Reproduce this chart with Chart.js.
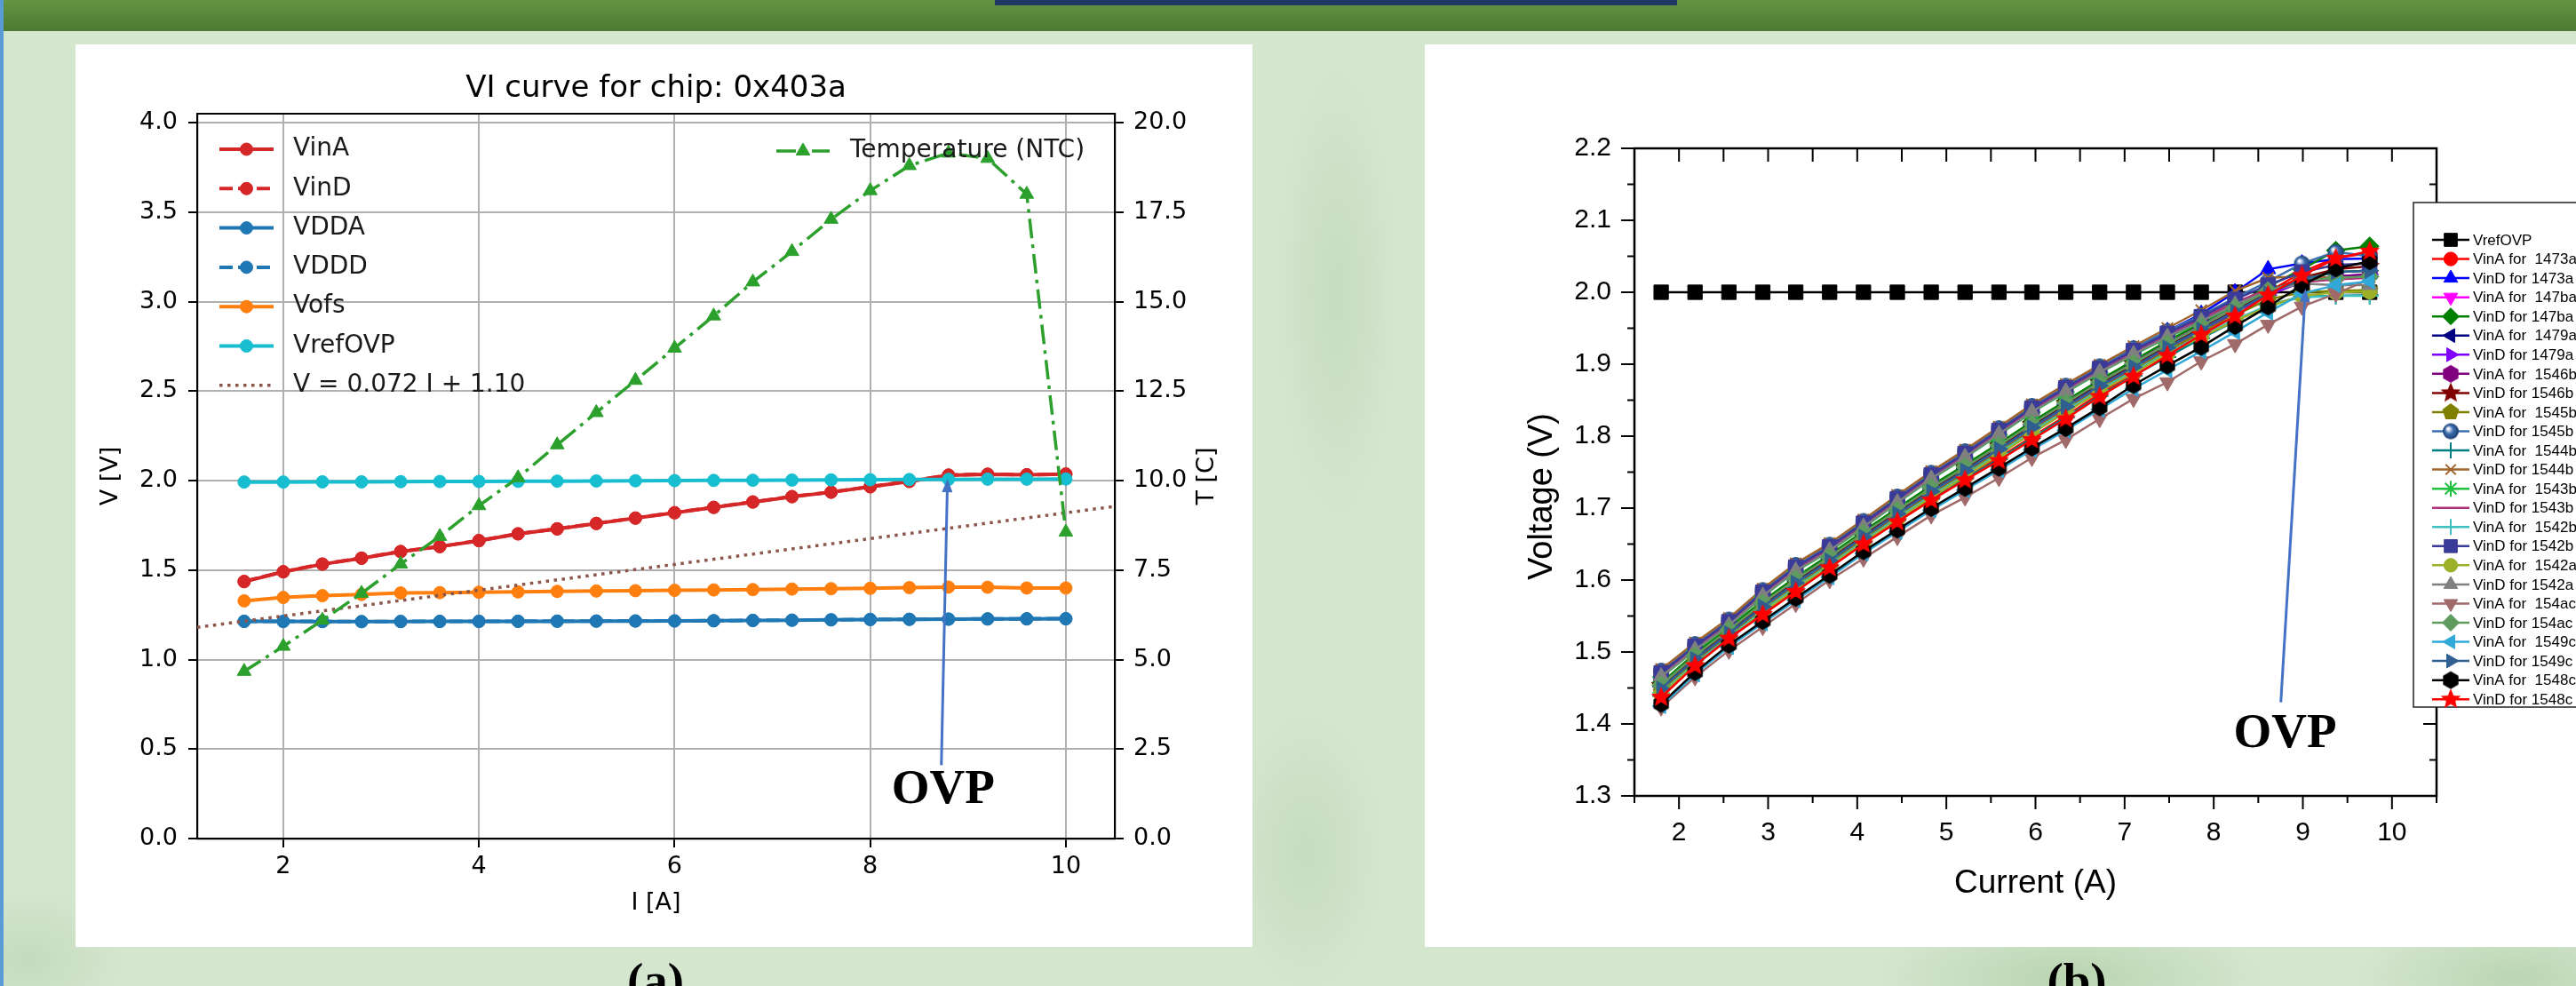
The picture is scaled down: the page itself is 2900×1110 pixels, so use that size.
<!DOCTYPE html>
<html>
<head>
<meta charset="utf-8">
<script src="https://cdn.jsdelivr.net/npm/chart.js@4.4.1/dist/chart.umd.min.js"></script>
<style>
  html, body { margin: 0; padding: 0; }
  body {
    width: 2900px; height: 1110px; overflow: hidden; position: relative;
    background:
      radial-gradient(70px 260px at 1505px 330px, rgba(120,165,105,0.16), rgba(120,165,105,0)),
      radial-gradient(90px 160px at 1470px 960px, rgba(120,165,105,0.16), rgba(120,165,105,0)),
      radial-gradient(220px 70px at 2330px 1100px, rgba(120,170,105,0.30), rgba(120,170,105,0)),
      radial-gradient(180px 70px at 2830px 1100px, rgba(120,170,105,0.28), rgba(120,170,105,0)),
      radial-gradient(110px 80px at 30px 1080px, rgba(120,170,105,0.18), rgba(120,170,105,0)),
      #d5e6cf;
  }
  #band { position: absolute; left: 0; top: 0; width: 2900px; height: 35px; background: linear-gradient(#629542, #4d7931); }
  #navy { position: absolute; left: 1120px; top: 0; width: 768px; height: 6px; background: #1f3864; }
  #stripe { position: absolute; left: 0; top: 0; width: 4px; height: 1110px; background: #5b9bd5; }
  .panel { position: absolute; top: 50px; height: 1016px; background: #fff; }
  #panelA { left: 85px; width: 1325px; }
  #panelB { left: 1604px; width: 1296px; }
  .panel canvas { position: absolute; left: 0; top: 0; }
  .cap { position: absolute; top: 1076px; font: bold 55px/55px "Liberation Serif", serif; color: #000; transform: translateX(-50%); }
</style>
</head>
<body>
<div id="band"></div>
<div id="navy"></div>
<div id="stripe"></div>
<div class="panel" id="panelA"><canvas id="chartA" width="1325" height="1016"></canvas></div>
<div class="panel" id="panelB"><canvas id="chartB" width="1296" height="1016"></canvas></div>
<div class="cap" style="left:738px">(a)</div>
<div class="cap" style="left:2338px">(b)</div>
<script>
// ---------- (a) VI curve for chip 0x403a ----------
const currentA = [1.6, 2.0, 2.4, 2.8, 3.2, 3.6, 4.0, 4.4, 4.8, 5.2, 5.6, 6.0, 6.4, 6.8, 7.2, 7.6, 8.0, 8.4, 8.8, 9.2, 9.6, 10.0];
const vinA = [1.435, 1.490, 1.533, 1.566, 1.603, 1.631, 1.664, 1.702, 1.730, 1.760, 1.790, 1.820, 1.850, 1.880, 1.910, 1.935, 1.965, 1.995, 2.030, 2.035, 2.032, 2.036];
const vinD = [1.437, 1.491, 1.534, 1.567, 1.604, 1.632, 1.665, 1.703, 1.731, 1.761, 1.791, 1.821, 1.851, 1.881, 1.911, 1.936, 1.966, 1.996, 2.031, 2.036, 2.033, 2.037];
const vdda = [1.213, 1.213, 1.212, 1.212, 1.212, 1.213, 1.213, 1.214, 1.214, 1.215, 1.215, 1.216, 1.217, 1.218, 1.220, 1.222, 1.224, 1.225, 1.226, 1.227, 1.227, 1.228];
const vddd = [1.214, 1.213, 1.213, 1.212, 1.213, 1.213, 1.214, 1.214, 1.215, 1.215, 1.216, 1.216, 1.217, 1.219, 1.220, 1.222, 1.224, 1.225, 1.226, 1.227, 1.228, 1.228];
const vofs = [1.328, 1.347, 1.357, 1.364, 1.372, 1.374, 1.376, 1.378, 1.381, 1.383, 1.385, 1.387, 1.389, 1.391, 1.394, 1.396, 1.398, 1.402, 1.405, 1.404, 1.400, 1.400];
const vrefA = [1.992, 1.992, 1.993, 1.993, 1.994, 1.995, 1.995, 1.996, 1.997, 1.998, 1.999, 2.000, 2.001, 2.002, 2.003, 2.004, 2.005, 2.006, 2.007, 2.008, 2.008, 2.009];
const fitI = [1.12, 10.5];
const fitV = [1.18, 1.856];
const tempNTC = [4.67, 5.37, 6.10, 6.85, 7.67, 8.44, 9.30, 10.08, 11.0, 11.9, 12.8, 13.7, 14.6, 15.55, 16.4, 17.3, 18.1, 18.8, 19.15, 19.0, 18.0, 8.56];
const xTicksA = [2, 4, 6, 8, 10];
const vTicksA = [0, 0.5, 1.0, 1.5, 2.0, 2.5, 3.0, 3.5, 4.0];
const tTicksA = [0, 2.5, 5.0, 7.5, 10.0, 12.5, 15.0, 17.5, 20.0];
// OVP arrow (from, to) and label, in data units
const ovpA = [[8.727, 0.41], [8.79, 2.01], [8.745, 0.268]];

// ---------- (b) VinA / VinD for all chips ----------
const currentB = [1.80, 2.18, 2.56, 2.94, 3.31, 3.69, 4.07, 4.45, 4.83, 5.21, 5.59, 5.96, 6.34, 6.72, 7.10, 7.48, 7.86, 8.24, 8.61, 8.99, 9.37, 9.75];
const vrefB = [2.0, 2.0, 2.0, 2.0, 2.0, 2.0, 2.0, 2.0, 2.0, 2.0, 2.0, 2.0, 2.0, 2.0, 2.0, 2.0, 2.0, 2.0, 2.0, 2.0, 2.0, 2.0];
const vinA1473a = [1.441, 1.485, 1.523, 1.556, 1.588, 1.621, 1.654, 1.685, 1.715, 1.743, 1.770, 1.799, 1.828, 1.859, 1.887, 1.916, 1.945, 1.971, 2.000, 2.028, 2.048, 2.054];
const vinD1473a = [1.472, 1.509, 1.543, 1.584, 1.619, 1.647, 1.680, 1.714, 1.747, 1.777, 1.809, 1.840, 1.868, 1.895, 1.921, 1.946, 1.970, 2.000, 2.032, 2.040, 2.046, 2.047];
const vinA147ba = [1.455, 1.496, 1.532, 1.569, 1.602, 1.633, 1.666, 1.698, 1.729, 1.758, 1.788, 1.818, 1.847, 1.876, 1.902, 1.929, 1.954, 1.978, 2.000, 2.015, 2.020, 2.022];
const vinD147ba = [1.457, 1.498, 1.534, 1.571, 1.604, 1.635, 1.668, 1.700, 1.731, 1.760, 1.790, 1.820, 1.849, 1.878, 1.905, 1.932, 1.957, 1.982, 2.008, 2.032, 2.058, 2.064];
const vinA1479a = [1.452, 1.493, 1.529, 1.566, 1.599, 1.630, 1.663, 1.695, 1.726, 1.755, 1.785, 1.815, 1.844, 1.873, 1.899, 1.926, 1.951, 1.976, 2.000, 2.018, 2.028, 2.030];
const vinD1479a = [1.448, 1.489, 1.525, 1.562, 1.595, 1.626, 1.659, 1.691, 1.722, 1.751, 1.781, 1.811, 1.840, 1.869, 1.895, 1.922, 1.947, 1.972, 1.996, 2.014, 2.022, 2.025];
const vinA1546b = [1.467, 1.504, 1.538, 1.579, 1.614, 1.642, 1.675, 1.709, 1.742, 1.772, 1.804, 1.835, 1.863, 1.890, 1.915, 1.939, 1.961, 1.984, 2.003, 2.015, 2.022, 2.025];
const vinD1546b = [1.453, 1.494, 1.530, 1.567, 1.600, 1.631, 1.664, 1.696, 1.727, 1.756, 1.786, 1.816, 1.845, 1.874, 1.900, 1.927, 1.952, 1.977, 2.001, 2.020, 2.032, 2.036];
const vinA1545b = [1.445, 1.486, 1.522, 1.559, 1.592, 1.623, 1.656, 1.688, 1.719, 1.748, 1.778, 1.808, 1.837, 1.866, 1.892, 1.919, 1.944, 1.968, 1.990, 2.000, 2.002, 2.003];
const vinD1545b = [1.474, 1.511, 1.545, 1.586, 1.621, 1.649, 1.682, 1.716, 1.749, 1.779, 1.811, 1.842, 1.870, 1.897, 1.922, 1.946, 1.968, 1.992, 2.015, 2.040, 2.056, 2.050];
const vinA1544b = [1.439, 1.483, 1.521, 1.554, 1.586, 1.619, 1.652, 1.683, 1.713, 1.741, 1.768, 1.797, 1.826, 1.856, 1.884, 1.910, 1.936, 1.960, 1.982, 1.994, 1.995, 1.996];
const vinD1544b = [1.476, 1.513, 1.547, 1.588, 1.623, 1.651, 1.684, 1.718, 1.751, 1.781, 1.813, 1.844, 1.872, 1.899, 1.925, 1.950, 1.975, 2.002, 2.020, 2.022, 2.020, 2.021];
const vinA1543b = [1.465, 1.502, 1.536, 1.577, 1.612, 1.640, 1.673, 1.707, 1.740, 1.770, 1.802, 1.833, 1.861, 1.888, 1.913, 1.937, 1.959, 1.982, 2.002, 2.018, 2.028, 2.030];
const vinD1543b = [1.470, 1.507, 1.541, 1.582, 1.617, 1.645, 1.678, 1.712, 1.745, 1.775, 1.807, 1.838, 1.866, 1.893, 1.918, 1.942, 1.964, 1.986, 2.004, 2.014, 2.018, 2.020];
const vinA1542b = [1.443, 1.484, 1.520, 1.557, 1.590, 1.621, 1.654, 1.686, 1.717, 1.746, 1.776, 1.806, 1.835, 1.864, 1.890, 1.916, 1.940, 1.962, 1.982, 1.993, 1.995, 1.995];
const vinD1542b = [1.471, 1.508, 1.542, 1.583, 1.618, 1.646, 1.679, 1.713, 1.746, 1.776, 1.808, 1.839, 1.867, 1.894, 1.919, 1.943, 1.966, 1.990, 2.010, 2.028, 2.038, 2.040];
const vinA1542a = [1.441, 1.482, 1.518, 1.555, 1.588, 1.619, 1.652, 1.684, 1.715, 1.744, 1.774, 1.804, 1.833, 1.862, 1.888, 1.914, 1.938, 1.960, 1.980, 1.995, 2.000, 2.001];
const vinD1542a = [1.466, 1.503, 1.537, 1.578, 1.613, 1.641, 1.674, 1.708, 1.741, 1.771, 1.803, 1.834, 1.862, 1.889, 1.914, 1.938, 1.960, 1.983, 2.002, 2.012, 2.010, 2.010];
const vinA154ac = [1.423, 1.465, 1.502, 1.535, 1.567, 1.600, 1.630, 1.660, 1.690, 1.715, 1.742, 1.770, 1.795, 1.824, 1.852, 1.875, 1.904, 1.928, 1.955, 1.980, 1.998, 2.018];
const vinD154ac = [1.454, 1.495, 1.531, 1.568, 1.601, 1.632, 1.665, 1.697, 1.728, 1.757, 1.787, 1.817, 1.846, 1.875, 1.901, 1.928, 1.953, 1.978, 2.002, 2.016, 2.020, 2.022];
const vinA1549c = [1.425, 1.469, 1.507, 1.540, 1.572, 1.604, 1.637, 1.667, 1.697, 1.725, 1.753, 1.781, 1.808, 1.837, 1.866, 1.892, 1.918, 1.945, 1.972, 1.998, 2.010, 2.015];
const vinD1549c = [1.449, 1.490, 1.526, 1.563, 1.596, 1.627, 1.660, 1.692, 1.723, 1.752, 1.782, 1.812, 1.841, 1.870, 1.896, 1.923, 1.948, 1.973, 1.998, 2.018, 2.028, 2.030];
const vinA1548c = [1.428, 1.472, 1.510, 1.543, 1.575, 1.607, 1.640, 1.670, 1.700, 1.728, 1.756, 1.784, 1.811, 1.840, 1.871, 1.898, 1.924, 1.953, 1.980, 2.010, 2.033, 2.043];
const vinD1548c = [1.437, 1.481, 1.519, 1.552, 1.584, 1.617, 1.650, 1.681, 1.711, 1.739, 1.766, 1.795, 1.824, 1.855, 1.883, 1.912, 1.941, 1.967, 1.996, 2.023, 2.047, 2.057];
const xTicksB = [2, 3, 4, 5, 6, 7, 8, 9, 10];
const xMinorB = [1.5, 2.5, 3.5, 4.5, 5.5, 6.5, 7.5, 8.5, 9.5, 10.5];
const yTicksB = [1.3, 1.4, 1.5, 1.6, 1.7, 1.8, 1.9, 2.0, 2.1, 2.2];
const yMinorB = [1.35, 1.45, 1.55, 1.65, 1.75, 1.85, 1.95, 2.05, 2.15];
const ovpB = [[8.753, 1.43], [9.03, 2.005], [8.80, 1.385]];

// custom marker shapes (Origin style)
function polyMarker(n, r, color, inner) {
  const c = document.createElement('canvas');
  const s = Math.ceil(2 * r + 2);
  c.width = c.height = s;
  const g = c.getContext('2d');
  g.fillStyle = color;
  g.beginPath();
  const pts = inner ? n * 2 : n;
  for (let k = 0; k < pts; k++) {
    const ang = k * Math.PI * 2 / pts;
    const rr = inner && k % 2 ? r * inner : r;
    const px = s / 2 + rr * Math.sin(ang), py = s / 2 - rr * Math.cos(ang);
    if (k) g.lineTo(px, py); else g.moveTo(px, py);
  }
  g.closePath();
  g.fill();
  return c;
}
function sphereMarker(r, color) {
  const c = document.createElement('canvas');
  const s = Math.ceil(2 * r + 2);
  c.width = c.height = s;
  const g = c.getContext('2d');
  const grad = g.createRadialGradient(s / 2 - r / 3, s / 2 - r / 3, 1, s / 2, s / 2, r);
  grad.addColorStop(0, '#ffffff');
  grad.addColorStop(0.45, color);
  grad.addColorStop(1, '#1d3f70');
  g.fillStyle = grad;
  g.beginPath(); g.arc(s / 2, s / 2, r, 0, Math.PI * 2); g.fill();
  return c;
}

// label, values, colour, marker, rotation
const seriesB = [
  ['VrefOVP', vrefB, '#000000', 'rect', 0],
  ['VinA for  1473a', vinA1473a, '#ff0000', 'circle', 0],
  ['VinD for 1473a', vinD1473a, '#0000ff', 'triangle', 0],
  ['VinA for  147ba', vinA147ba, '#ff00ff', 'triangle', 180],
  ['VinD for 147ba', vinD147ba, '#008000', 'rectRot', 0],
  ['VinA for  1479a', vinA1479a, '#000080', 'triangle', 270],
  ['VinD for 1479a', vinD1479a, '#8000ff', 'triangle', 90],
  ['VinA for  1546b', vinA1546b, '#800080', polyMarker(6, 10, '#800080'), 0],
  ['VinD for 1546b', vinD1546b, '#800000', polyMarker(5, 12, '#800000', 0.45), 0],
  ['VinA for  1545b', vinA1545b, '#808000', polyMarker(5, 10, '#808000'), 0],
  ['VinD for 1545b', vinD1545b, '#3d6eb0', sphereMarker(9, '#3d6eb0'), 0],
  ['VinA for  1544b', vinA1544b, '#008080', 'cross', 0],
  ['VinD for 1544b', vinD1544b, '#a0642c', 'crossRot', 0],
  ['VinA for  1543b', vinA1543b, '#20c040', 'star', 0],
  ['VinD for 1543b', vinD1543b, '#b0307a', false, 0],
  ['VinA for  1542b', vinA1542b, '#40c0c0', 'cross', 0],
  ['VinD for 1542b', vinD1542b, '#3a3a98', 'rect', 0],
  ['VinA for  1542a', vinA1542a, '#9cb02a', 'circle', 0],
  ['VinD for 1542a', vinD1542a, '#808080', 'triangle', 0],
  ['VinA for  154ac', vinA154ac, '#a06a6a', 'triangle', 180],
  ['VinD for 154ac', vinD154ac, '#5f9a5f', 'rectRot', 0],
  ['VinA for  1549c', vinA1549c, '#30a8d8', 'triangle', 270],
  ['VinD for 1549c', vinD1549c, '#2f5f90', 'triangle', 90],
  ['VinA for  1548c', vinA1548c, '#000000', polyMarker(6, 10, '#000000'), 0],
  ['VinD for 1548c', vinD1548c, '#ff0000', polyMarker(5, 12, '#ff0000', 0.45), 0]
];

function xy(xs, ys) { return xs.map((x, i) => ({ x: x, y: ys[i] })); }

function radiusFor(style) {
  if (style === false) return 0;
  if (typeof style === 'object') return 10;
  return { circle: 8.5, rect: 11.5, triangle: 10, rectRot: 10.5, cross: 10, crossRot: 9, star: 10 }[style];
}

function drawPt(ctx, style, rot, r, x, y, bw) {
  if (style === false || r <= 0) return;
  if (Chart.helpers && Chart.helpers.drawPoint) {
    Chart.helpers.drawPoint(ctx, { pointStyle: style, rotation: rot || 0, radius: r, borderWidth: bw }, x, y);
  } else {
    ctx.beginPath(); ctx.arc(x, y, r, 0, Math.PI * 2); ctx.fill();
  }
}

function arrow(ctx, x0, y0, x1, y1) {
  ctx.save();
  ctx.strokeStyle = ctx.fillStyle = '#4472c4';
  ctx.lineWidth = 3;
  const ang = Math.atan2(y1 - y0, x1 - x0), hl = 15, hw = 6;
  const bx = x1 - hl * Math.cos(ang), by = y1 - hl * Math.sin(ang);
  ctx.beginPath(); ctx.moveTo(x0, y0); ctx.lineTo(bx, by); ctx.stroke();
  ctx.beginPath();
  ctx.moveTo(x1, y1);
  ctx.lineTo(bx + hw * Math.sin(ang), by - hw * Math.cos(ang));
  ctx.lineTo(bx - hw * Math.sin(ang), by + hw * Math.cos(ang));
  ctx.closePath(); ctx.fill();
  ctx.restore();
}

function vText(ctx, text, x, y) {
  ctx.save();
  ctx.translate(x, y);
  ctx.rotate(-Math.PI / 2);
  ctx.fillText(text, 0, 0);
  ctx.restore();
}

// ---------- chart (a) ----------
const MPL = '"DejaVu Sans"';
const lineA = (label, vals, color, dash) => ({
  label: label, data: xy(currentA, vals), yAxisID: 'y',
  borderColor: color, backgroundColor: color, borderWidth: 4, borderDash: dash || [],
  pointRadius: 7, pointBorderWidth: 1, pointStyle: 'circle'
});
const dsA = [
  lineA('VinA', vinA, '#d62728'),
  lineA('VinD', vinD, '#d62728', [15, 6]),
  lineA('VDDA', vdda, '#1f77b4'),
  lineA('VDDD', vddd, '#1f77b4', [15, 6]),
  lineA('Vofs', vofs, '#ff7f0e'),
  lineA('VrefOVP', vrefA, '#17becf'),
  { label: 'V = 0.072 I + 1.10', data: xy(fitI, fitV), yAxisID: 'y', borderColor: '#8c564b', backgroundColor: '#8c564b',
    borderWidth: 3.5, borderDash: [3.5, 5.5], pointRadius: 0 },
  { label: 'Temperature (NTC)', data: xy(currentA, tempNTC), yAxisID: 't', borderColor: '#2ca02c', backgroundColor: '#2ca02c',
    borderWidth: 3.5, borderDash: [22, 7, 4, 7], pointStyle: 'triangle', pointRadius: 9, pointBorderWidth: 1 }
];
dsA.forEach((d, i) => { d.order = dsA.length - i; });

const decoA = {
  id: 'decoA',
  afterDraw(chart) {
    const ctx = chart.ctx, a = chart.chartArea, sx = chart.scales.x, sy = chart.scales.y;
    ctx.save();
    ctx.strokeStyle = '#000'; ctx.lineWidth = 2.2;
    ctx.beginPath(); ctx.moveTo(a.left, a.top); ctx.lineTo(a.right, a.top); ctx.stroke();

    ctx.fillStyle = '#000';
    ctx.textAlign = 'center';
    ctx.font = '34px ' + MPL; ctx.textBaseline = 'alphabetic';
    ctx.fillText('VI curve for chip: 0x403a', (a.left + a.right) / 2, 59);
    ctx.font = '27px ' + MPL; ctx.textBaseline = 'middle';
    ctx.fillText('I [A]', (a.left + a.right) / 2, 967);
    vText(ctx, 'V [V]', 40, (a.top + a.bottom) / 2);
    vText(ctx, 'T [C]', 1274, (a.top + a.bottom) / 2);

    // legend (no frame, like the original)
    ctx.font = '28px ' + MPL; ctx.textAlign = 'left';
    const entry = (d, hx0, hx1, y, tx) => {
      ctx.save();
      ctx.strokeStyle = d.borderColor; ctx.fillStyle = d.backgroundColor;
      ctx.lineWidth = d.borderWidth; ctx.setLineDash(d.borderDash || []);
      ctx.beginPath(); ctx.moveTo(hx0, y); ctx.lineTo(hx1, y); ctx.stroke();
      ctx.setLineDash([]); ctx.lineWidth = 1;
      drawPt(ctx, d.pointStyle || 'circle', 0, d.pointRadius || 0, (hx0 + hx1) / 2, y, 1);
      ctx.restore();
      ctx.fillStyle = '#1a1a1a';
      ctx.fillText(d.label, tx, y);
    };
    for (let i = 0; i < 7; i++) entry(dsA[i], 162, 223, 118 + i * 44.3, 245);
    entry(dsA[7], 789, 849, 120, 872);

    // OVP annotation
    arrow(ctx, sx.getPixelForValue(ovpA[0][0]), sy.getPixelForValue(ovpA[0][1]),
               sx.getPixelForValue(ovpA[1][0]), sy.getPixelForValue(ovpA[1][1]));
    ctx.fillStyle = '#000'; ctx.textAlign = 'center'; ctx.textBaseline = 'middle';
    ctx.font = 'bold 55px "Liberation Serif"';
    ctx.fillText('OVP', sx.getPixelForValue(ovpA[2][0]), sy.getPixelForValue(ovpA[2][1]));
    ctx.restore();
  }
};

const gridA = { color: '#b0b0b0', lineWidth: 2, drawTicks: true, tickLength: 10, tickColor: '#000', tickWidth: 2 };
new Chart(document.getElementById('chartA'), {
  type: 'line',
  data: { datasets: dsA },
  options: {
    responsive: false, animation: false, devicePixelRatio: 1,
    layout: { padding: { left: 37, right: 55, top: 78, bottom: 22 } },
    plugins: { legend: { display: false }, tooltip: { enabled: false } },
    scales: {
      x: {
        type: 'linear', min: 1.12, max: 10.5,
        grid: gridA, border: { display: true, color: '#000', width: 2.2 },
        afterBuildTicks: s => { s.ticks = xTicksA.map(v => ({ value: v })); },
        afterFit: s => { s.height = 100; },
        ticks: { font: { family: 'DejaVu Sans', size: 27 }, color: '#000', padding: 6, maxRotation: 0, callback: v => String(v) }
      },
      y: {
        type: 'linear', position: 'left', min: 0, max: 4.05,
        grid: gridA, border: { display: true, color: '#000', width: 2.2 },
        afterBuildTicks: s => { s.ticks = vTicksA.map(v => ({ value: v })); },
        afterFit: s => { s.width = 100; },
        ticks: { font: { family: 'DejaVu Sans', size: 27 }, color: '#000', padding: 12, callback: v => v.toFixed(1) }
      },
      t: {
        type: 'linear', position: 'right', min: 0, max: 20.25,
        grid: Object.assign({}, gridA, { drawOnChartArea: false }), border: { display: true, color: '#000', width: 2.2 },
        afterBuildTicks: s => { s.ticks = tTicksA.map(v => ({ value: v })); },
        afterFit: s => { s.width = 100; },
        ticks: { font: { family: 'DejaVu Sans', size: 27 }, color: '#000', padding: 11, callback: v => v.toFixed(1) }
      }
    }
  },
  plugins: [decoA]
});

// ---------- chart (b) ----------
const dsB = seriesB.map((s, i) => ({
  label: s[0], data: xy(currentB, s[1]),
  borderColor: s[2], backgroundColor: s[2], borderWidth: 2.5,
  pointStyle: s[3] === false ? 'circle' : s[3], pointRotation: s[4],
  pointRadius: radiusFor(s[3]), pointBorderWidth: (s[3] === 'cross' || s[3] === 'crossRot' || s[3] === 'star') ? 2 : 1,
  order: seriesB.length - i
}));

const decoB = {
  id: 'decoB',
  afterDraw(chart) {
    const ctx = chart.ctx, a = chart.chartArea, sx = chart.scales.x, sy = chart.scales.y;
    ctx.save();
    // frame and Origin-style ticks
    ctx.strokeStyle = '#000'; ctx.lineWidth = 2.5;
    ctx.strokeRect(a.left, a.top, a.right - a.left, a.bottom - a.top);
    ctx.lineWidth = 2;
    ctx.beginPath();
    xTicksB.forEach(v => {
      const px = sx.getPixelForValue(v);
      ctx.moveTo(px, a.bottom); ctx.lineTo(px, a.bottom + 15);
      ctx.moveTo(px, a.top); ctx.lineTo(px, a.top + 15);
    });
    xMinorB.forEach(v => {
      const px = sx.getPixelForValue(v);
      ctx.moveTo(px, a.bottom); ctx.lineTo(px, a.bottom + 8);
      ctx.moveTo(px, a.top); ctx.lineTo(px, a.top + 15);
    });
    yTicksB.forEach(v => {
      const py = sy.getPixelForValue(v);
      ctx.moveTo(a.left, py); ctx.lineTo(a.left - 15, py);
      ctx.moveTo(a.right, py); ctx.lineTo(a.right - 15, py);
    });
    yMinorB.forEach(v => {
      const py = sy.getPixelForValue(v);
      ctx.moveTo(a.left, py); ctx.lineTo(a.left - 8, py);
      ctx.moveTo(a.right, py); ctx.lineTo(a.right - 8, py);
    });
    ctx.stroke();

    // axis titles
    ctx.fillStyle = '#000'; ctx.textAlign = 'center'; ctx.textBaseline = 'middle';
    ctx.font = '37px "Liberation Sans"';
    ctx.fillText('Current (A)', (a.left + a.right) / 2, 945);
    ctx.font = '38px "Liberation Sans"';
    vText(ctx, 'Voltage (V)', 133, 509);

    // OVP annotation
    arrow(ctx, sx.getPixelForValue(ovpB[0][0]), sy.getPixelForValue(ovpB[0][1]),
               sx.getPixelForValue(ovpB[1][0]), sy.getPixelForValue(ovpB[1][1]));
    ctx.font = 'bold 55px "Liberation Serif"';
    ctx.fillText('OVP', sx.getPixelForValue(ovpB[2][0]), sy.getPixelForValue(ovpB[2][1]));

    // legend box
    ctx.fillStyle = '#fff';
    ctx.fillRect(1113, 178, 400, 568);
    ctx.strokeStyle = '#222'; ctx.lineWidth = 1.5;
    ctx.strokeRect(1113, 178, 400, 568);
    ctx.font = '17px "Liberation Sans"'; ctx.textAlign = 'left'; ctx.textBaseline = 'middle';
    dsB.forEach((d, i) => {
      const y = 220 + i * 21.55;
      ctx.save();
      ctx.strokeStyle = d.borderColor; ctx.fillStyle = d.backgroundColor;
      ctx.lineWidth = d.borderWidth;
      ctx.beginPath(); ctx.moveTo(1134, y); ctx.lineTo(1176, y); ctx.stroke();
      ctx.lineWidth = d.pointBorderWidth;
      drawPt(ctx, seriesB[i][3], d.pointRotation, d.pointRadius * 0.9, 1155, y, d.pointBorderWidth);
      ctx.restore();
      ctx.fillStyle = '#000';
      ctx.fillText(d.label, 1180, y + 1);
    });
    ctx.restore();
  }
};

new Chart(document.getElementById('chartB'), {
  type: 'line',
  data: { datasets: dsB },
  options: {
    responsive: false, animation: false, devicePixelRatio: 1,
    layout: { padding: { left: 36, right: 157, top: 117, bottom: 70 } },
    plugins: { legend: { display: false }, tooltip: { enabled: false } },
    scales: {
      x: {
        type: 'linear', min: 1.5, max: 10.5,
        grid: { display: false, drawTicks: false }, border: { display: false },
        afterBuildTicks: s => { s.ticks = xTicksB.map(v => ({ value: v })); },
        afterFit: s => { s.height = 100; },
        ticks: { font: { family: 'Liberation Sans', size: 30 }, color: '#000', padding: 24, maxRotation: 0, callback: v => String(v) }
      },
      y: {
        type: 'linear', min: 1.3, max: 2.2,
        grid: { display: false, drawTicks: false }, border: { display: false },
        afterBuildTicks: s => { s.ticks = yTicksB.map(v => ({ value: v })); },
        afterFit: s => { s.width = 200; },
        ticks: { font: { family: 'Liberation Sans', size: 30 }, color: '#000', padding: 26, callback: v => v.toFixed(1) }
      }
    }
  },
  plugins: [decoB]
});
</script>
</body>
</html>
